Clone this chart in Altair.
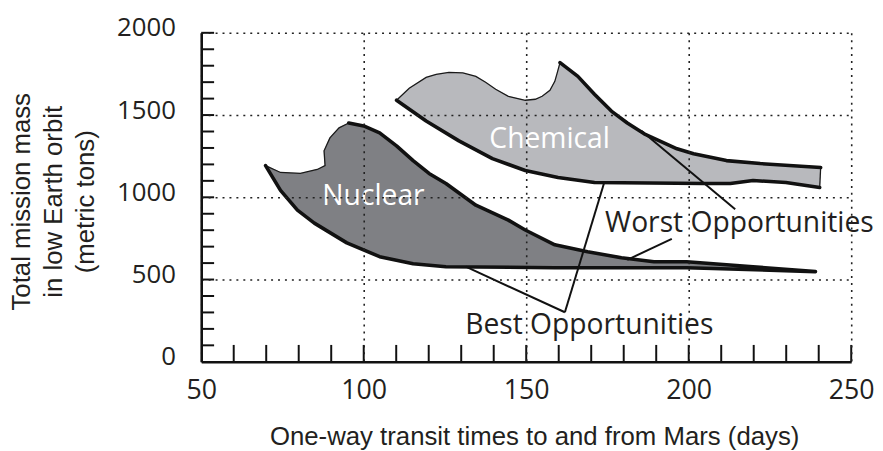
import altair as alt
import pandas as pd

# ---- data ----
chem_x = [110.1, 114.0, 119.2, 122.3, 126.2, 130.5, 134.5, 137.5, 140.6, 144.5, 149.7,
          152.8, 154.9, 157.3, 158.8, 159.5, 160.4,
          165.9, 171.0, 176.2, 181.1, 186.3, 196.4, 201.5, 211.6, 222.0, 240.6,
          240.3, 229.9, 219.8, 212.8, 204.6, 171.0, 159.8, 149.7, 139.6, 129.3, 119.2, 110.1]
chem_y = [1590, 1663, 1729, 1747, 1759, 1756, 1735, 1699, 1657, 1614, 1590,
          1596, 1614, 1651, 1705, 1753, 1819,
          1735, 1627, 1524, 1452, 1386, 1295, 1265, 1223, 1205, 1181,
          1060, 1090, 1102, 1084, 1084, 1090, 1120, 1163, 1235, 1343, 1464, 1590]

nuc_x = [69.8, 74.4, 80.5, 85.7, 88.1, 87.8, 89.6, 92.4, 95.4,
         100.0, 104.9, 110.1, 115.2, 120.1, 125.3, 134.5, 144.5, 149.7, 158.8, 168.9,
         179.3, 189.3, 199.4, 219.8, 239.0,
         199.4, 158.8, 125.3, 115.2, 104.9, 94.8, 84.8, 79.6, 74.4, 69.8]
nuc_y = [1193, 1151, 1145, 1169, 1193, 1283, 1361, 1422, 1452,
         1434, 1392, 1313, 1223, 1145, 1084, 952, 861, 801, 711, 669,
         633, 608, 608, 578, 548,
         572, 572, 578, 596, 639, 723, 843, 922, 1042, 1193]

# leader lines (start x, start y, end x, end y)
ann_x1 = [185.4, 194.8, 161.9, 161.9]
ann_y1 = [1404, 747, 301, 301]
ann_x2 = [214.3, 181.1, 174.1, 131.4]
ann_y2 = [928, 620, 1096, 578]

label_text = ["Chemical", "Nuclear", "Worst Opportunities", "Best Opportunities"]
label_x = [157.2, 103.0, 215.6, 169.4]
label_y = [1355, 1006, 846, 223]
label_color = ["white", "white", "#231f20", "#231f20"]

x_major = [50, 100, 150, 200, 250]
y_major = [0, 500, 1000, 1500, 2000]
x_minor = [60, 70, 80, 90, 100, 110, 120, 130, 140, 150, 160, 170, 180, 190, 200,
           210, 220, 230, 240, 250]
y_minor = [100, 200, 300, 400, 500, 600, 700, 800, 900, 1000, 1100, 1200, 1300, 1400,
           1500, 1600, 1700, 1800, 1900, 2000]

W, H = 656, 332
INK = "#231f20"

chem = pd.DataFrame({"x": chem_x, "y": chem_y, "i": list(range(len(chem_x)))})
nuc = pd.DataFrame({"x": nuc_x, "y": nuc_y, "i": list(range(len(nuc_x)))})


def seg(df, a, b, name):
    d = df.iloc[a:b].copy()
    d["seg"] = name
    return d


thick = pd.concat([seg(chem, 16, 27, "c1"), seg(chem, 27, 39, "c2"), seg(nuc, 8, 35, "n1")])
thin = pd.concat([seg(chem, 0, 17, "c0"), seg(chem, 26, 28, "c3"), seg(nuc, 0, 9, "n0")])

ann = pd.DataFrame({"x": ann_x1, "y": ann_y1, "x2": ann_x2, "y2": ann_y2})
labels = pd.DataFrame({"x": label_x, "y": label_y, "t": label_text, "c": label_color})
xt = pd.DataFrame({"x": x_minor})
yt = pd.DataFrame({"y": y_minor})

xs = alt.Scale(domain=[50, 250], nice=False, zero=False)
ys = alt.Scale(domain=[0, 2000], nice=False, zero=False)

xaxis = alt.Axis(values=x_major, format="d", grid=True, gridDash=[2, 5], gridColor="#222",
                 gridWidth=1.6, ticks=False, domainColor="#111", domainWidth=2.6,
                 labelFont="Open Sans", labelFontSize=27, labelColor=INK, labelPadding=16,
                 labelFlush=False, labelOverlap=False,
                 title="One-way transit times to and from Mars (days)",
                 titleFont="Liberation Sans", titleFontSize=26, titleFontWeight="normal",
                 titleColor=INK, titleX=336, titleY=75, titleBaseline="middle", zindex=1)
yaxis = alt.Axis(values=y_major, format="d", grid=True, gridDash=[2, 5], gridColor="#222",
                 gridWidth=1.6, ticks=False, domainColor="#111", domainWidth=2.6,
                 labelFont="Open Sans", labelFontSize=26, labelColor=INK, labelPadding=26,
                 labelOffset=-5, labelFlush=False, labelOverlap=False,
                 title=["Total mission mass", "in low Earth orbit", "(metric tons)"],
                 titleFont="Liberation Sans", titleFontSize=26, titleFontWeight="normal",
                 titleColor=INK, titleAngle=270, titleX=-181, titleY=170,
                 titleAlign="center", titleBaseline="middle", titleLineHeight=32, zindex=1)

X = alt.X("x:Q", scale=xs, axis=xaxis)
Y = alt.Y("y:Q", scale=ys, axis=yaxis)

chem_fill = alt.Chart(chem).mark_line(fill="#b8b9bd", stroke="#b8b9bd", strokeWidth=0.5).encode(
    x=X, y=Y, order="i:Q")
nuc_fill = alt.Chart(nuc).mark_line(fill="#7f8084", stroke="#7f8084", strokeWidth=0.5).encode(
    x=X, y=Y, order="i:Q")

thin_l = alt.Chart(thin).mark_line(color="#1a1a1a", strokeWidth=1.3).encode(
    x=X, y=Y, order="i:Q", detail="seg:N")
thick_l = alt.Chart(thick).mark_line(color="#111", strokeWidth=3.6, strokeJoin="round",
                                     strokeCap="round").encode(
    x=X, y=Y, order="i:Q", detail="seg:N")

ann_l = alt.Chart(ann).mark_rule(color="#111", strokeWidth=2).encode(
    x=X, y=Y, x2="x2:Q", y2="y2:Q")

txt = alt.Chart(labels).mark_text(font="Open Sans", fontSize=28.5, baseline="middle",
                                  align="center").encode(
    x=X, y=Y, text="t:N", color=alt.Color("c:N", scale=None))

xtick = alt.Chart(xt).mark_rule(color="#111", strokeWidth=2).encode(
    x=X, y=alt.value(H), y2=alt.value(H - 17))
ytick = alt.Chart(yt).mark_rule(color="#111", strokeWidth=2).encode(
    y=Y, x=alt.value(0), x2=alt.value(13))

chart = alt.layer(chem_fill, nuc_fill, thin_l, thick_l, ann_l, txt, xtick, ytick).properties(
    width=W, height=H,
    autosize=alt.AutoSizeParams(type="none"),
    padding={"left": 195, "top": 23, "right": 24, "bottom": 88},
).configure_view(stroke=None)

chart.save("out.html", embed_options={"renderer": "svg", "actions": False})
